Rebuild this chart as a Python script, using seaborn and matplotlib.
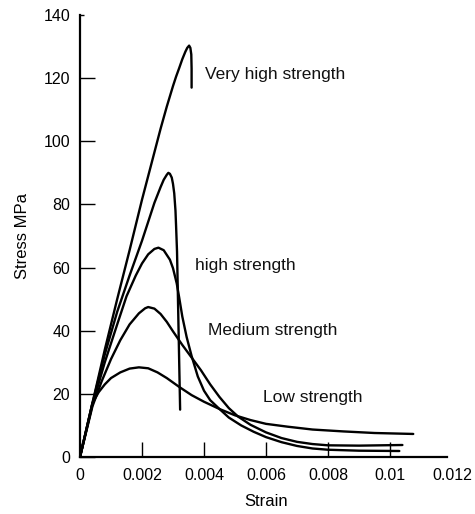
import numpy as np
import pandas as pd
import matplotlib
matplotlib.use("Agg")
import matplotlib.pyplot as plt
import seaborn as sns

# ---- data ----
vh_strain = [0, 0.0004, 0.0008, 0.0012, 0.0016, 0.0018, 0.002, 0.0022, 0.0024, 0.0026, 0.0028, 0.003, 0.0031,
             0.0032, 0.0033, 0.0034, 0.00346, 0.00352, 0.00356, 0.00359, 0.0036, 0.0036]
vh_stress = [0, 17, 34, 50, 65.5, 73.5, 81.5, 89, 96.5, 104, 111, 117.5, 120.5,
             123.2, 126, 128.4, 129.6, 130.3, 129.6, 127.5, 123, 117]

h_strain = [0, 0.0004, 0.0008, 0.0012, 0.0016, 0.002, 0.0022, 0.0024, 0.0026, 0.0027, 0.0028, 0.00285, 0.0029,
            0.00296, 0.003, 0.00304, 0.00308, 0.0031, 0.00313, 0.00316, 0.0032, 0.00323]
h_stress = [0, 17, 32.5, 46, 57.5, 68.5, 74.5, 80.5, 85.5, 87.8, 89.4, 90, 89.7,
            88.5, 86.5, 83.5, 78, 73, 65, 50, 30, 15]

p66_strain = [0, 0.0004, 0.0008, 0.0012, 0.0015, 0.0018, 0.002, 0.0022, 0.0024, 0.00253, 0.0027, 0.0029, 0.003,
              0.00312, 0.0032, 0.0033, 0.00344, 0.0036, 0.0038, 0.004, 0.0042, 0.0045, 0.0048, 0.0052, 0.0056,
              0.006, 0.0065, 0.007, 0.0075, 0.008, 0.009, 0.0103]
p66_stress = [0, 16.5, 30, 42, 50.9, 57.5, 61.3, 64.2, 65.9, 66.3, 65.5, 62.5, 59.8,
              55, 50.5, 44.5, 38, 32, 25.5, 21, 18, 15.2, 12.5, 10, 8,
              6.3, 4.7, 3.5, 2.7, 2.3, 2.0, 1.9]

med_strain = [0, 0.0004, 0.0007, 0.001, 0.0013, 0.0016, 0.0019, 0.0021, 0.0022, 0.0024, 0.0026, 0.0028, 0.003,
              0.0033, 0.0036, 0.0039, 0.0042, 0.0045, 0.0048, 0.0051, 0.0055, 0.006, 0.0065, 0.007, 0.0075,
              0.008, 0.009, 0.0104]
med_stress = [0, 16, 24, 31, 37, 42, 45.5, 47.1, 47.5, 47, 45.3, 42.8, 39.8,
              35.5, 31.5, 27.5, 23, 19, 15.5, 12.8, 10.2, 7.8, 6.0, 4.8, 4.1,
              3.7, 3.6, 3.8]

low_strain = [0, 0.0002, 0.0004, 0.0006, 0.0008, 0.001, 0.0013, 0.0016, 0.0019, 0.0022, 0.0025, 0.0028, 0.0032,
              0.0036, 0.004, 0.0045, 0.005, 0.0055, 0.006, 0.0067, 0.0075, 0.0085, 0.0095, 0.01075]
low_stress = [0, 8.5, 17, 20.5, 23, 25, 26.8, 28, 28.4, 28.1, 26.8, 25, 22.2,
              19.6, 17.5, 15.2, 13.2, 11.7, 10.5, 9.6, 8.7, 8.1, 7.6, 7.3]

curve_names = ["Very high", "High", "Upper medium", "Medium", "Low"]

label_texts = ["Very high strength", "high strength", "Medium strength", "Low strength"]
label_x = [0.00403, 0.00371, 0.00414, 0.0059]
label_y = [121.3, 60.6, 40.0, 18.7]

x_ticks = [0, 0.002, 0.004, 0.006, 0.008, 0.010, 0.012]
x_ticklabels = ["0", "0.002", "0.004", "0.006", "0.008", "0.01", "0.012"]
y_ticks = [0, 20, 40, 60, 80, 100, 120, 140]
y_ticklabels = ["0", "20", "40", "60", "80", "100", "120", "140"]

# ---- build long table ----
frames = []
for name, xs, ys in zip(curve_names,
                        [vh_strain, h_strain, p66_strain, med_strain, low_strain],
                        [vh_stress, h_stress, p66_stress, med_stress, low_stress]):
    frames.append(pd.DataFrame({"curve": name, "Strain": xs, "Stress": ys,
                                "order": range(len(xs))}))
df = pd.concat(frames, ignore_index=True)

sns.set_style("white")
plt.rcParams["font.family"] = ["Liberation Sans", "DejaVu Sans"]
plt.rcParams["text.color"] = "black"
plt.rcParams["axes.labelcolor"] = "black"

fig = plt.figure(figsize=(4.75, 5.14), dpi=100)
ax = fig.add_axes([80 / 475, 1 - 457 / 514, (452 - 80) / 475, (457 - 15) / 514])

sns.lineplot(data=df, x="Strain", y="Stress", units="curve", estimator=None,
             sort=False, color="black", linewidth=1.7, legend=False, ax=ax)

ax.set_xlim(0, 0.012)
ax.set_ylim(0, 140)
ax.set_xticks(x_ticks)
ax.set_xticklabels(x_ticklabels)
ax.set_yticks(y_ticks)
ax.set_yticklabels(y_ticklabels)

for s in ["top", "right"]:
    ax.spines[s].set_visible(False)
for s in ["left", "bottom"]:
    ax.spines[s].set_linewidth(1.6)
    ax.spines[s].set_color("black")
ax.spines["bottom"].set_bounds(0, 0.01184)

ax.tick_params(axis="both", which="major", bottom=True, left=True, top=False, right=False,
               direction="in", length=10.5, width=1.0,
               color="black", labelcolor="black", labelsize=11.5, pad=7)
ax.tick_params(axis="x", pad=8)
ax.xaxis.get_major_ticks()[-1].tick1line.set_visible(False)
ax.yaxis.get_major_ticks()[-1].tick1line.set_markersize(3)

ax.set_xlabel("Strain", fontsize=12, labelpad=8)
ax.set_ylabel("Stress MPa", fontsize=12, labelpad=10)

for t, x, y in zip(label_texts, label_x, label_y):
    ax.text(x, y, t, fontsize=12.5, ha="left", va="center", color="#111111")

ax.grid(False)
fig.savefig("out.png", dpi=100, facecolor="white")
